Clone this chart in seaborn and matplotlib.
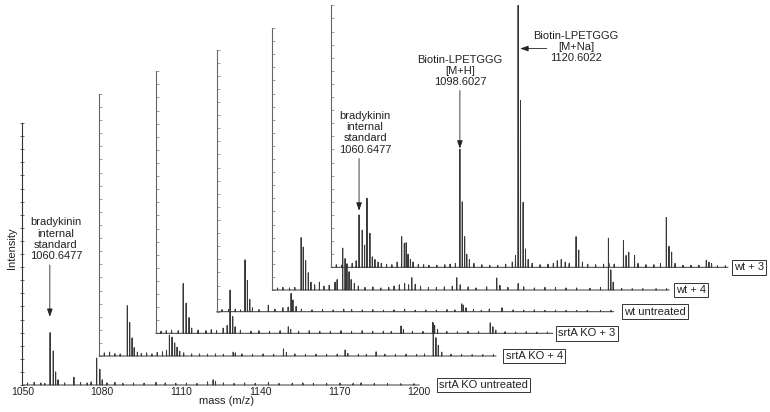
import matplotlib
matplotlib.use('Agg')
import matplotlib.pyplot as plt
import seaborn as sns
import pandas as pd
import numpy as np

sns.set_theme(style="white")
plt.rcParams['font.family'] = ['Liberation Sans', 'DejaVu Sans']
plt.rcParams['path.simplify'] = False

# --- data: stacked MALDI spectra, front to back (m/z, relative intensity %) ---
labels = ['srtA KO untreated', 'srtA KO + 4', 'srtA KO + 3', 'wt untreated', 'wt + 4', 'wt + 3']
mass_ticks = [1050, 1080, 1110, 1140, 1170, 1200]

ko_untr_mz = [1052.0, 1054.5, 1057.0, 1058.5, 1060.5, 1061.7, 1062.6, 1063.5, 1066.0, 1069.5,
              1072.0, 1074.5, 1076.0, 1078.1, 1079.3, 1080.2, 1082.0, 1085.0, 1088.0, 1092.0,
              1096.0, 1100.5, 1104.0, 1108.0, 1112.0, 1116.0, 1120.0, 1122.1, 1123.0, 1126.0,
              1130.0, 1134.0, 1138.0, 1143.0, 1147.0, 1152.0, 1156.0, 1160.0, 1165.0, 1170.0,
              1175.0, 1178.0, 1183.0, 1188.0, 1193.0, 1198.0]
ko_untr_int = [0.8, 1.0, 0.8, 0.6, 20.0, 13.0, 5.0, 2.0, 0.8, 3.0,
               1.0, 0.8, 1.2, 10.3, 6.0, 2.0, 0.8, 1.0, 0.6, 0.8,
               0.7, 1.0, 0.8, 0.6, 0.7, 0.6, 1.2, 2.0, 1.4, 0.8,
               0.6, 0.8, 0.6, 1.0, 0.6, 0.7, 0.8, 0.6, 0.6, 0.7,
               0.6, 0.8, 0.6, 0.6, 0.5, 0.5]

ko_p4_mz = [1052.0, 1054.0, 1056.0, 1058.0, 1060.7, 1061.6, 1062.5, 1063.3, 1064.5, 1066.0,
            1068.0, 1070.0, 1072.0, 1074.0, 1075.5, 1076.6, 1077.6, 1078.6, 1079.5, 1080.5,
            1082.0, 1085.0, 1088.0, 1091.0, 1094.0, 1097.0, 1100.7, 1101.5, 1104.0, 1108.0,
            1112.0, 1116.0, 1119.7, 1120.8, 1124.0, 1128.0, 1132.0, 1136.0, 1140.0, 1143.0,
            1144.0, 1148.0, 1151.0, 1154.7, 1158.0, 1162.0, 1166.0, 1170.0, 1173.0, 1176.3,
            1177.3, 1178.2, 1179.5, 1183.0, 1187.0, 1191.0, 1195.0, 1199.0]
ko_p4_int = [1.2, 1.5, 0.9, 0.8, 19.2, 12.8, 6.9, 3.2, 1.5, 1.0,
             1.2, 0.8, 1.4, 1.6, 2.2, 8.0, 7.2, 5.0, 3.4, 1.8,
             1.2, 0.8, 0.8, 0.7, 0.8, 0.7, 1.5, 1.2, 0.8, 0.7,
             0.8, 0.6, 2.7, 1.4, 0.8, 0.6, 0.7, 0.6, 0.7, 2.3,
             1.0, 0.7, 0.6, 1.6, 0.7, 0.6, 0.7, 0.6, 0.8, 12.6,
             7.0, 4.0, 1.5, 0.7, 0.6, 0.5, 0.5, 0.5]

ko_p3_mz = [1052.0, 1054.0, 1056.0, 1058.5, 1060.4, 1061.5, 1062.6, 1063.6, 1066.0, 1069.0,
            1071.0, 1073.0, 1075.5, 1077.0, 1078.1, 1079.1, 1080.0, 1082.0, 1086.0, 1089.0,
            1093.0, 1097.0, 1100.1, 1101.0, 1104.0, 1108.0, 1112.0, 1116.0, 1120.0, 1124.0,
            1128.0, 1132.0, 1136.0, 1139.0, 1142.7, 1143.6, 1147.0, 1151.0, 1154.6, 1155.4,
            1156.5, 1160.0, 1164.0, 1168.0, 1172.0, 1176.4, 1177.4, 1178.5, 1182.0, 1186.0,
            1190.0, 1194.0, 1198.0]
ko_p3_int = [0.8, 1.0, 1.2, 1.0, 19.0, 11.5, 6.0, 2.0, 1.2, 1.0,
             1.4, 1.0, 2.0, 3.0, 16.5, 6.4, 2.5, 1.2, 0.8, 1.0,
             0.8, 1.0, 2.5, 1.5, 0.8, 1.0, 0.7, 0.8, 1.0, 0.7,
             1.0, 0.7, 0.8, 0.7, 2.8, 1.4, 0.8, 0.7, 4.2, 3.0,
             1.5, 0.7, 0.6, 0.7, 0.6, 4.0, 2.5, 1.2, 0.6, 0.5,
             0.6, 0.5, 0.5]

wt_untr_mz = [1052.0, 1054.5, 1057.0, 1059.0, 1060.7, 1061.6, 1062.5, 1063.5, 1066.0, 1069.5,
              1072.0, 1075.0, 1077.0, 1078.1, 1078.8, 1080.0, 1082.0, 1086.0, 1090.0, 1094.0,
              1098.0, 1101.0, 1105.0, 1109.0, 1113.0, 1117.0, 1121.0, 1125.0, 1129.0, 1133.0,
              1137.0, 1140.0, 1142.6, 1143.2, 1144.2, 1147.0, 1150.0, 1153.0, 1157.8, 1162.0,
              1166.0, 1170.0, 1174.0, 1178.0, 1182.0, 1186.0, 1190.0, 1195.0, 1199.0]
wt_untr_int = [0.8, 0.8, 1.0, 0.7, 19.8, 12.0, 4.7, 1.5, 0.8, 2.5,
               1.0, 1.5, 1.8, 7.0, 4.5, 2.0, 1.0, 0.7, 0.8, 0.7,
               1.0, 0.8, 0.7, 0.8, 0.6, 0.7, 1.0, 0.6, 0.7, 0.6,
               0.8, 0.7, 3.0, 2.5, 1.5, 0.8, 0.6, 1.0, 1.5, 0.7,
               0.6, 0.7, 0.5, 0.6, 0.5, 0.5, 0.5, 0.5, 0.5]

wt_p4_mz = [1052.0, 1054.0, 1056.5, 1058.5, 1060.9, 1061.7, 1062.6, 1063.6, 1064.6, 1066.0,
            1067.8, 1069.5, 1071.5, 1073.7, 1074.5, 1076.6, 1077.5, 1078.2, 1079.0, 1079.8,
            1081.0, 1082.5, 1085.0, 1088.0, 1091.0, 1094.0, 1096.0, 1098.0, 1100.0, 1101.5,
            1102.7, 1104.0, 1106.0, 1109.0, 1112.0, 1115.0, 1118.0, 1119.7, 1121.0, 1124.0,
            1127.0, 1131.0, 1134.8, 1136.0, 1139.0, 1142.9, 1145.0, 1149.0, 1153.0, 1157.0,
            1161.0, 1165.0, 1170.0, 1174.0, 1177.0, 1177.9, 1178.8, 1182.0, 1186.0, 1190.0,
            1195.0, 1199.0]
wt_p4_int = [0.8, 1.0, 0.8, 1.0, 20.0, 16.4, 11.2, 6.6, 3.0, 2.0,
             3.0, 1.5, 1.8, 3.0, 4.0, 16.0, 12.0, 10.0, 7.0, 4.0,
             2.5, 1.5, 1.0, 1.2, 0.8, 1.0, 1.5, 2.0, 2.5, 2.0,
             4.7, 2.2, 1.5, 1.0, 1.0, 1.2, 1.5, 4.7, 2.0, 1.2,
             0.8, 1.2, 4.6, 1.8, 1.0, 2.5, 1.2, 0.8, 1.0, 1.0,
             0.8, 0.8, 0.7, 1.0, 19.8, 7.7, 3.0, 0.6, 0.5, 0.5,
             0.5, 0.5]

wt_p3_mz = [1052.0, 1054.0, 1056.0, 1058.0, 1059.5, 1060.6, 1061.8, 1062.7, 1063.6, 1064.7,
            1065.6, 1066.6, 1067.8, 1069.0, 1071.0, 1073.0, 1075.0, 1076.7, 1077.7, 1078.4,
            1079.1, 1080.0, 1081.0, 1083.0, 1085.0, 1087.0, 1090.0, 1093.0, 1095.0, 1097.0,
            1098.7, 1099.6, 1100.5, 1101.3, 1102.3, 1104.0, 1107.0, 1110.0, 1113.0, 1116.0,
            1118.5, 1119.7, 1120.7, 1121.6, 1122.6, 1123.5, 1124.5, 1126.0, 1129.0, 1132.0,
            1134.0, 1135.5, 1137.0, 1138.5, 1140.0, 1142.6, 1143.6, 1145.0, 1147.0, 1150.0,
            1153.0, 1155.0, 1157.0, 1160.5, 1161.5, 1162.5, 1164.7, 1166.0, 1169.0, 1172.0,
            1174.5, 1176.7, 1177.7, 1178.7, 1180.0, 1183.0, 1186.0, 1189.0, 1191.8, 1192.8,
            1193.8, 1196.0, 1199.0]
wt_p3_int = [1.0, 0.8, 1.2, 1.5, 2.5, 20.0, 14.2, 8.5, 26.4, 13.0,
             4.0, 3.0, 2.0, 1.5, 1.2, 1.0, 2.0, 11.7, 9.2, 9.4,
             5.0, 3.0, 2.0, 1.2, 1.0, 0.8, 0.8, 1.0, 1.2, 1.5,
             45.1, 25.0, 11.7, 5.0, 3.0, 1.5, 1.0, 0.8, 0.8, 1.2,
             2.0, 4.5, 100.0, 63.7, 24.8, 7.0, 3.0, 1.5, 1.0, 1.2,
             1.5, 2.5, 3.0, 2.0, 1.5, 11.7, 6.6, 2.0, 1.2, 1.0,
             1.2, 1.5, 1.2, 10.2, 4.5, 5.8, 4.5, 1.5, 1.0, 1.0,
             1.5, 19.0, 8.0, 5.8, 1.5, 0.8, 0.8, 0.8, 2.7, 2.0,
             1.5, 0.6, 0.6]

spectra_mz = [ko_untr_mz, ko_p4_mz, ko_p3_mz, wt_untr_mz, wt_p4_mz, wt_p3_mz]
spectra_int = [ko_untr_int, ko_p4_int, ko_p3_int, wt_untr_int, wt_p4_int, wt_p3_int]

# --- layout (pixels in a 770x412 canvas) ---
W, H = 770, 412
panel_left = [22.3, 99.0, 155.7, 216.7, 272.3, 331.0]
panel_base = [385.0, 356.0, 333.3, 311.7, 290.0, 267.3]
panel_w, panel_h = 397.0, 262.0
label_pad_px = [20, 9.5, 5.5, 10.3, 6.9, 6.0]

line_color = '#383838'
arrow_kw = dict(arrowstyle='-|>,head_length=0.4,head_width=0.14', lw=0.6,
                color='#222222', shrinkA=0, shrinkB=0)


def stick_trace(mz, inten, half=0.05):
    xs, ys = [1050.0], [0.0]
    for m, h in zip(mz, inten):
        xs += [m - half, m, m + half]
        ys += [0.0, h, 0.0]
    xs.append(1200.0)
    ys.append(0.0)
    return pd.DataFrame({'mass': xs, 'intensity': ys})


fig = plt.figure(figsize=(W / 100, H / 100), dpi=100)
axes = []
for i, name in enumerate(labels):
    rect = [panel_left[i] / W, (H - panel_base[i]) / H, panel_w / W, panel_h / H]
    ax = fig.add_axes(rect)
    ax.patch.set_visible(False)
    df = stick_trace(spectra_mz[i], spectra_int[i])
    sns.lineplot(data=df, x='mass', y='intensity', ax=ax, estimator=None, sort=False,
                 color=line_color, linewidth=0.7)
    for ln in ax.lines:
        ln.set_clip_on(False)
    ax.set_xlim(1050, 1200)
    ax.set_ylim(0, 100)
    for s in ['top', 'right', 'bottom']:
        ax.spines[s].set_visible(False)
    front = i == 0
    ax.spines['left'].set_color('#333333' if front else '#666666')
    ax.spines['left'].set_linewidth(0.8)
    ax.set_yticks(np.arange(0, 101, 5))
    ax.set_yticklabels([])
    ax.tick_params(axis='y', direction='inout' if front else 'in', length=2.5 if front else 2,
                   width=0.5, color='#333333' if front else '#777777', left=True)
    ax.set_xlabel('')
    ax.set_ylabel('')
    if front:
        ax.set_xticks(mass_ticks)
        ax.set_xticklabels([str(t) for t in mass_ticks])
        ax.tick_params(axis='x', length=0, pad=1.5, labelsize=7.5, colors='#222222')
        ax.set_xlabel('mass (m/z)', fontsize=8, color='#222222')
        ax.xaxis.set_label_coords(0.515, -0.041)
        ax.xaxis.label.set_va('top')
        ax.set_ylabel('Intensity', fontsize=8, color='#222222')
        ax.yaxis.set_label_coords(-0.013, 0.523)
    else:
        ax.set_xticks([])
    ax.annotate(name, xy=(1, 0), xycoords='axes fraction',
                xytext=(label_pad_px[i] * 0.72, 0), textcoords='offset points',
                ha='left', va='center', fontsize=8, color='#222222',
                bbox=dict(boxstyle='square,pad=0.2', fc='white', ec='#333333', lw=0.7))
    axes.append(ax)

# annotations on the front spectrum
ax0 = axes[0]
ax0.text(1062.7, 47.3, 'bradykinin\ninternal\nstandard\n1060.6477', ha='center', va='bottom',
         fontsize=8, linespacing=1.15, color='#222222')
ax0.annotate('', xy=(1060.4, 26.0), xytext=(1060.4, 45.8), arrowprops=arrow_kw)

# annotations on the back spectrum (wt + 3)
ax5 = axes[5]
ax5.text(1062.9, 43.0, 'bradykinin\ninternal\nstandard\n1060.6477', ha='center', va='bottom',
         fontsize=8, linespacing=1.15, color='#222222')
ax5.annotate('', xy=(1060.6, 21.6), xytext=(1060.6, 41.5), arrowprops=arrow_kw)
ax5.text(1098.8, 68.7, 'Biotin-LPETGGG\n[M+H]\n1098.6027', ha='center', va='bottom',
         fontsize=8, linespacing=1.15, color='#222222')
ax5.annotate('', xy=(1098.7, 45.3), xytext=(1098.7, 67.5), arrowprops=arrow_kw)
ax5.text(1142.5, 84.0, 'Biotin-LPETGGG\n[M+Na]\n1120.6022', ha='center', va='center',
         fontsize=8, linespacing=1.15, color='#222222')
ax5.annotate('', xy=(1121.5, 83.5), xytext=(1131.5, 83.5), arrowprops=arrow_kw)

fig.savefig('out.png', dpi=100)
